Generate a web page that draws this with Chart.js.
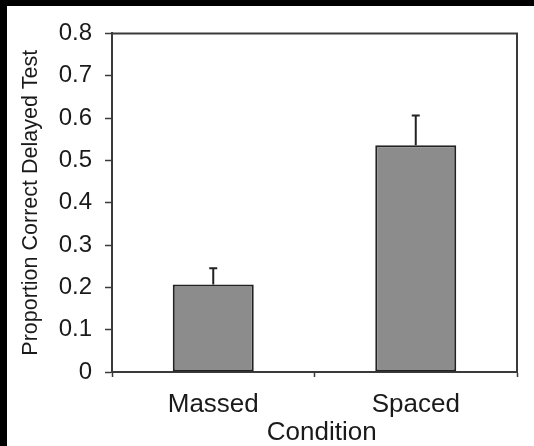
<!DOCTYPE html>
<html>
<head>
<meta charset="utf-8">
<script src="https://cdn.jsdelivr.net/npm/chart.js@4.4.1/dist/chart.umd.min.js"></script>
<style>
  html, body { margin: 0; padding: 0; background: #000; }
  #wrap { position: absolute; left: 7px; top: 6px; width: 527px; height: 440px; background: #fff; }
</style>
</head>
<body>
<div id="wrap"><canvas id="barChart"></canvas></div>
<script>
// dados
const categories = ['Massed', 'Spaced'];
const proportionCorrect = [0.207, 0.536];
const errorUpper = [0.038, 0.070];
const yTickLabels = ['0', '0.1', '0.2', '0.3', '0.4', '0.5', '0.6', '0.7', '0.8'];

const inkColor = '#3a3a3a';
const textColor = '#1a1a1a';
const fontFamily = '"Liberation Sans", Arial, sans-serif';

// moldura do gráfico + barras de erro (só para cima, com tampa)
const framePlugin = {
    id: 'frameAndErrors',
    afterDatasetsDraw(chart) {
        const { ctx, chartArea } = chart;
        const yScale = chart.scales.y;
        const meta = chart.getDatasetMeta(0);

        ctx.save();
        ctx.strokeStyle = '#222';
        ctx.lineWidth = 2;
        meta.data.forEach((bar, i) => {
            const yTop = yScale.getPixelForValue(proportionCorrect[i] + errorUpper[i]);
            const yBar = yScale.getPixelForValue(proportionCorrect[i]);
            ctx.beginPath();
            ctx.moveTo(bar.x, yBar);
            ctx.lineTo(bar.x, yTop);
            ctx.moveTo(bar.x - 4, yTop);
            ctx.lineTo(bar.x + 4, yTop);
            ctx.stroke();
        });

        ctx.strokeStyle = inkColor;
        ctx.beginPath();
        ctx.moveTo(chartArea.left, chartArea.top);
        ctx.lineTo(chartArea.right, chartArea.top);
        ctx.lineTo(chartArea.right, chartArea.bottom);
        ctx.stroke();
        ctx.restore();
    }
};

const ctx = document.getElementById('barChart').getContext('2d');
const myChart = new Chart(ctx, {
    type: 'bar',
    data: {
        labels: categories,
        datasets: [{
            data: proportionCorrect,
            backgroundColor: '#8c8c8c',
            borderColor: '#222',
            borderWidth: 2,
            borderSkipped: false,
            barPercentage: 0.4,
            categoryPercentage: 1.0
        }]
    },
    options: {
        responsive: true,
        maintainAspectRatio: false,
        animation: false,
        layout: { padding: { top: 26, right: 17, left: 0, bottom: 0 } },
        plugins: {
            legend: { display: false },
            tooltip: { enabled: false }
        },
        scales: {
            x: {
                afterFit(scale) { scale.height = 74; },
                grid: { drawOnChartArea: false, tickLength: 5, tickColor: inkColor, tickWidth: 1.5 },
                border: { display: true, color: inkColor, width: 2 },
                ticks: {
                    color: textColor,
                    padding: 12,
                    font: { family: fontFamily, size: 26 }
                },
                title: {
                    display: true,
                    text: '  Condition',
                    color: textColor,
                    padding: { top: 0, bottom: 0 },
                    font: { family: fontFamily, size: 26, lineHeight: 1 }
                }
            },
            y: {
                min: 0,
                max: 0.8,
                afterFit(scale) { scale.width = 105; },
                grid: { drawOnChartArea: false, tickLength: 7, tickColor: inkColor, tickWidth: 1.5 },
                border: { display: true, color: inkColor, width: 2 },
                ticks: {
                    stepSize: 0.1,
                    color: textColor,
                    padding: 13,
                    callback: (v, i) => yTickLabels[i],
                    font: { family: fontFamily, size: 24 }
                },
                title: {
                    display: true,
                    text: 'Proportion Correct Delayed Test',
                    color: textColor,
                    padding: { top: 13, bottom: 0 },
                    font: { family: fontFamily, size: 21.5, lineHeight: 1 }
                }
            }
        }
    },
    plugins: [framePlugin]
});
</script>
</body>
</html>
